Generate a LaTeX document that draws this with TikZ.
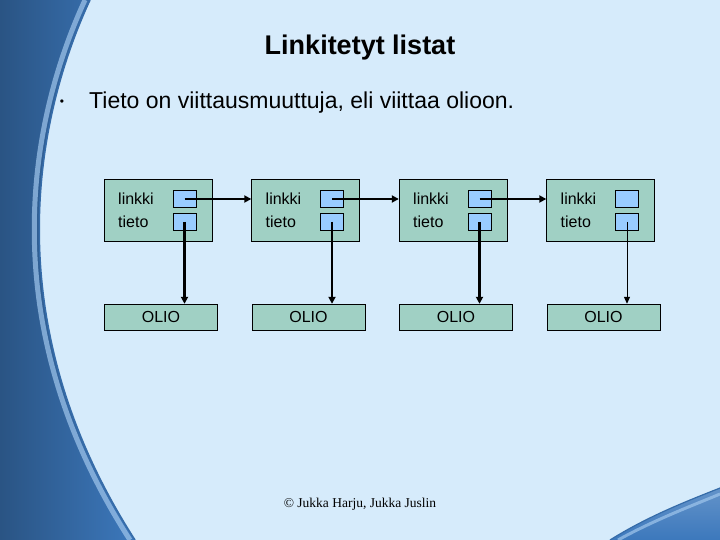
\documentclass[tikz,border=0pt]{standalone}
\usepackage{fontspec}
\setmainfont{Liberation Sans}
\newfontfamily\footfont{Liberation Serif}
\usetikzlibrary{arrows.meta}
\definecolor{tausta}{RGB}{214,235,251}
\definecolor{laatikko}{RGB}{160,208,196}
\definecolor{ruutu}{RGB}{153,204,255}
\definecolor{sini}{RGB}{60,120,188}
\definecolor{vaalea}{RGB}{160,198,236}
\begin{document}
\begin{tikzpicture}[x=1pt,y=-1pt,
    solmu/.style={draw,fill=laatikko,minimum width=108pt,minimum height=62pt,inner sep=0pt},
    ruutu/.style={draw,fill=ruutu,minimum width=23pt,minimum height=17pt,inner sep=0pt},
    olio/.style={draw,fill=laatikko,minimum width=113pt,minimum height=26pt,inner sep=0pt,font=\fontsize{16}{18}\selectfont},
    nimi/.style={anchor=west,inner sep=0pt,font=\fontsize{16}{18}\selectfont},
    linkki/.style={line width=2.5pt,-{Triangle[length=7pt,width=7pt]}}]
    % tausta ja kaaret
    \fill[tausta] (0,0) rectangle (720,540);
    \useasboundingbox (0,0) rectangle (720,540);
    \shade[left color=sini!70!black,right color=sini] (0,0) -- (90,0) .. controls (30,130) and (0,330) .. (135,540) -- (0,540) -- cycle;
    \draw[vaalea,line width=5pt,opacity=.7] (85,0) .. controls (25,130) and (-5,330) .. (130,540);
    \draw[sini!90!black,line width=1.5pt] (90,0) .. controls (30,130) and (0,330) .. (135,540);
    \shade[top color=sini!80!white,bottom color=sini] (610,540) .. controls (650,515) and (690,500) .. (720,488) -- (720,540) -- cycle;
    \draw[vaalea,line width=3pt,opacity=.7] (618,540) .. controls (656,519) and (694,505) .. (720,494);
    \draw[sini!90!black,line width=1.2pt] (610,540) .. controls (650,515) and (690,500) .. (720,488);
    % otsikko
    \node[font=\fontsize{27}{32}\selectfont\bfseries] (otsikko) at (360,48) {Linkitetyt listat};
    \node[font=\fontsize{12}{14}\selectfont] (pallo) at (62,103) {•};
    \node[anchor=west,inner sep=0pt,font=\fontsize{23}{27}\selectfont] (teksti) at (89,103) {Tieto on viittausmuuttuja, eli viittaa olioon.};
    % solmut
    \foreach \i/\x in {1/158,2/305.5,3/453,4/600.5}{
        \node[solmu] (s\i) at (\x,210) {};
        \node[nimi] (n\i) at (\x-40,199) {linkki};
        \node[nimi] (m\i) at (\x-40,222) {tieto};
        \node[ruutu] (l\i) at (\x+26.5,199) {};
        \node[ruutu] (t\i) at (\x+26.5,222) {};
        \node[olio] (o\i) at (\x+3,317) {OLIO};
    }
    % linkit
    \draw[linkki] (l1.center) -- (l1.center -| s2.west);
    \draw[linkki] (l2.center) -- (l2.center -| s3.west);
    \draw[linkki] (l3.center) -- (l3.center -| s4.west);
    \draw[linkki] (t1.center) -- (t1.center |- o1.north);
    \draw[linkki] (t2.center) -- (t2.center |- o2.north);
    \draw[linkki] (t3.center) -- (t3.center |- o3.north);
    \draw[line width=1pt,-{Triangle[length=7pt,width=6pt]}] (t4.center) -- (t4.center |- o4.north);
    \node[font=\footfont\fontsize{13.5}{16}\selectfont] (tekija) at (360,504) {© Jukka Harju, Jukka Juslin};
\end{tikzpicture}
\end{document}
